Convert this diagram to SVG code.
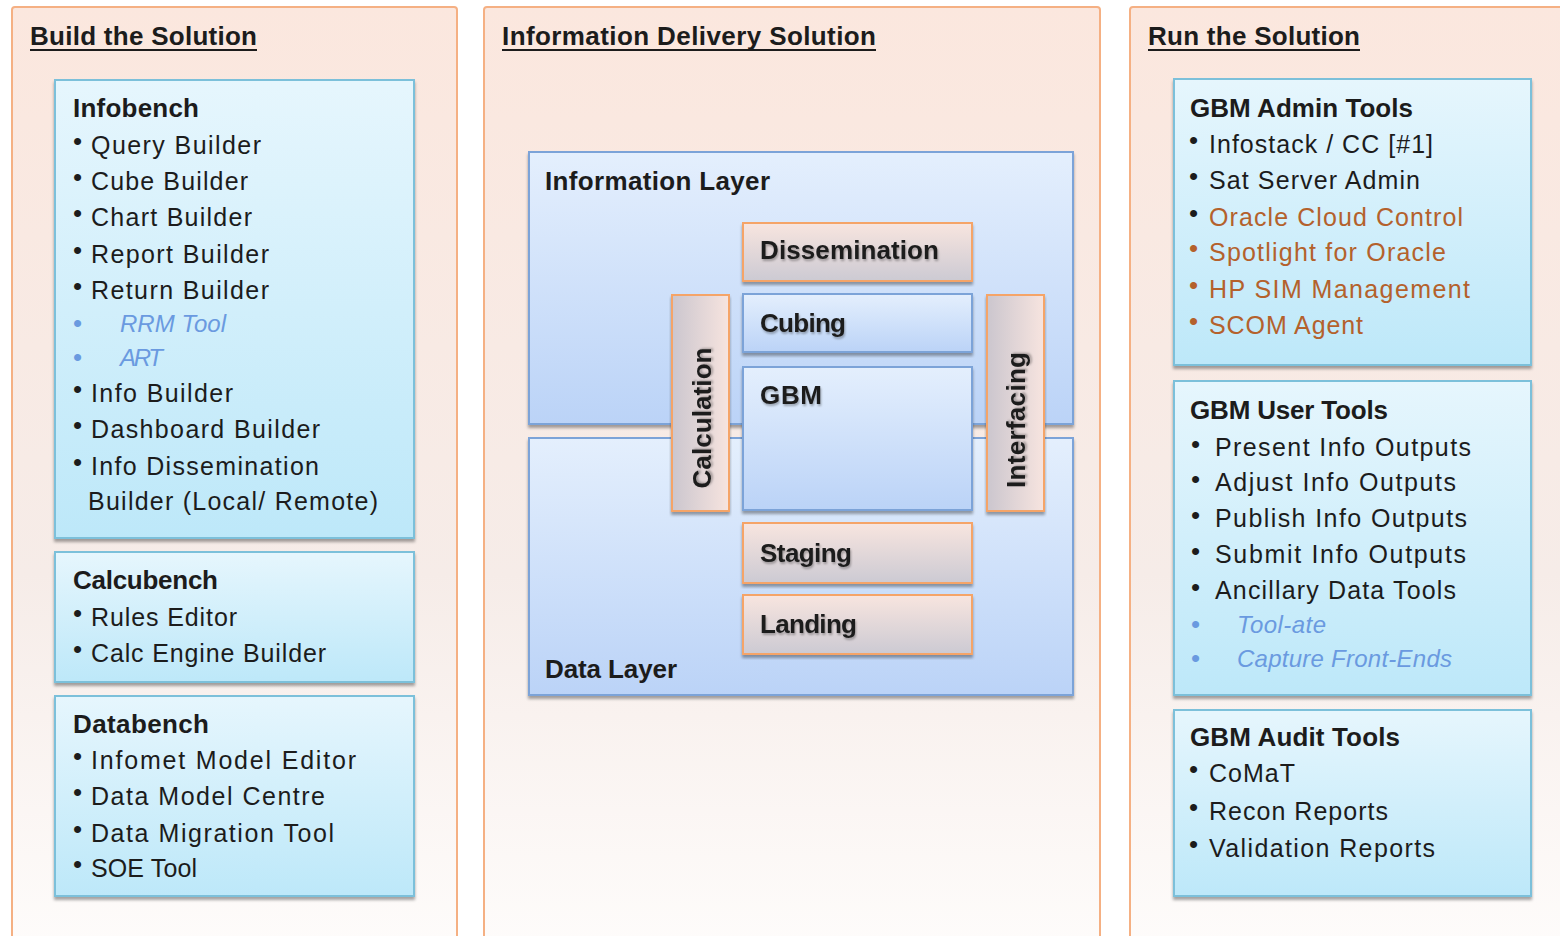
<svg xmlns="http://www.w3.org/2000/svg" width="1560" height="936" viewBox="0 0 1560 936">
<defs>
<linearGradient id="gPanel" x1="0" y1="0" x2="0" y2="1">
<stop offset="0" stop-color="#fbe7de"/><stop offset="0.6" stop-color="#f6ece8"/><stop offset="1" stop-color="#fefcfb"/>
</linearGradient>
<linearGradient id="gBlue" x1="0" y1="0" x2="0" y2="1">
<stop offset="0" stop-color="#e6f6fd"/><stop offset="1" stop-color="#bde8f9"/>
</linearGradient>
<linearGradient id="gLayer" x1="0" y1="0" x2="0" y2="1">
<stop offset="0" stop-color="#e4effd"/><stop offset="1" stop-color="#bbd3f7"/>
</linearGradient>
<linearGradient id="gOrange" x1="0" y1="0" x2="0" y2="1">
<stop offset="0" stop-color="#f8e5df"/><stop offset="1" stop-color="#cccad3"/>
</linearGradient>
<linearGradient id="gOrangeH" x1="0" y1="0" x2="1" y2="0">
<stop offset="0" stop-color="#cbc6ce"/><stop offset="1" stop-color="#f7e4df"/>
</linearGradient>
<filter id="shadow" x="-5%" y="-5%" width="110%" height="115%">
<feDropShadow dx="0" dy="3" stdDeviation="1.5" flood-color="#000" flood-opacity="0.35"/>
</filter>
<filter id="tshadow" x="-5%" y="-20%" width="110%" height="160%">
<feDropShadow dx="1" dy="2" stdDeviation="1.2" flood-color="#000" flood-opacity="0.3"/>
</filter>
</defs>
<style>
.panel{fill:url(#gPanel);stroke:#f5b083;stroke-width:2}
.bbox{fill:url(#gBlue);stroke:#7cc0da;stroke-width:2;filter:url(#shadow)}
.layer{fill:url(#gLayer);stroke:#7ca3d8;stroke-width:2;filter:url(#shadow)}
.obox{fill:url(#gOrange);stroke:#f5a468;stroke-width:2;filter:url(#shadow)}
.obar{fill:url(#gOrangeH);stroke:#f5a468;stroke-width:2;filter:url(#shadow)}
.ibox{fill:url(#gLayer);stroke:#7ca3d8;stroke-width:2;filter:url(#shadow)}
text{font-family:"Liberation Sans",Arial,sans-serif;fill:#1c1c1c}
.h{font-size:26px;font-weight:bold}
.t{font-size:26px;font-weight:bold}
.lbl{font-size:26px;font-weight:bold;filter:url(#tshadow)}
.i{font-size:25px}
.b{font-size:26px}
.it{font-size:24px;font-style:italic;fill:#6a9ae0}
.bl{fill:#6a9ae0}
.br{fill:#b4612c}
.ul{stroke:#1c1c1c;stroke-width:2}
</style>

<g id="panel-build">
<rect class="panel" x="12" y="7" width="445" height="945" rx="3"/>
<text class="h" x="30" y="45" textLength="227">Build the Solution</text>
<line class="ul" x1="30" y1="50" x2="257" y2="50"/>
</g>
<g id="panel-delivery">
<rect class="panel" x="484" y="7" width="616" height="945" rx="3"/>
<text class="h" x="502" y="45" textLength="374">Information Delivery Solution</text>
<line class="ul" x1="502" y1="50" x2="876" y2="50"/>
</g>
<g id="panel-run">
<rect class="panel" x="1130" y="7" width="450" height="945" rx="3"/>
<text class="h" x="1148" y="45" textLength="212">Run the Solution</text>
<line class="ul" x1="1148" y1="50" x2="1360" y2="50"/>
</g>

<g id="infobench">
<rect class="bbox" x="55" y="80" width="359" height="458"/>
<text class="t" x="73" y="117" textLength="126">Infobench</text>
<text class="b" x="73" y="150">•</text><text class="i" x="91" y="154" textLength="170">Query Builder</text>
<text class="b" x="73" y="186">•</text><text class="i" x="91" y="190" textLength="157">Cube Builder</text>
<text class="b" x="73" y="222">•</text><text class="i" x="91" y="226" textLength="161">Chart Builder</text>
<text class="b" x="73" y="259">•</text><text class="i" x="91" y="263" textLength="178">Report Builder</text>
<text class="b" x="73" y="295">•</text><text class="i" x="91" y="299" textLength="178">Return Builder</text>
<text class="b bl" x="73" y="332">•</text><text class="it" x="120" y="332" textLength="106">RRM Tool</text>
<text class="b bl" x="73" y="366">•</text><text class="it" x="120" y="366" textLength="43">ART</text>
<text class="b" x="73" y="398">•</text><text class="i" x="91" y="402" textLength="142">Info Builder</text>
<text class="b" x="73" y="434">•</text><text class="i" x="91" y="438" textLength="229">Dashboard Builder</text>
<text class="b" x="73" y="471">•</text><text class="i" x="91" y="475" textLength="228">Info Dissemination</text>
<text class="i" x="88" y="510" textLength="290">Builder (Local/ Remote)</text>
</g>

<g id="calcubench">
<rect class="bbox" x="55" y="552" width="359" height="130"/>
<text class="t" x="73" y="589" textLength="145">Calcubench</text>
<text class="b" x="73" y="622">•</text><text class="i" x="91" y="626" textLength="146">Rules Editor</text>
<text class="b" x="73" y="658">•</text><text class="i" x="91" y="662" textLength="235">Calc Engine Builder</text>
</g>

<g id="databench">
<rect class="bbox" x="55" y="696" width="359" height="200"/>
<text class="t" x="73" y="733" textLength="136">Databench</text>
<text class="b" x="73" y="765">•</text><text class="i" x="91" y="769" textLength="265">Infomet Model Editor</text>
<text class="b" x="73" y="801">•</text><text class="i" x="91" y="805" textLength="234">Data Model Centre</text>
<text class="b" x="73" y="838">•</text><text class="i" x="91" y="842" textLength="243">Data Migration Tool</text>
<text class="b" x="73" y="873">•</text><text class="i" x="91" y="877" textLength="106">SOE Tool</text>
</g>

<g id="information-layer">
<rect class="layer" x="529" y="152" width="544" height="272"/>
<text class="t" x="545" y="190" textLength="225">Information Layer</text>
</g>
<g id="data-layer">
<rect class="layer" x="529" y="438" width="544" height="257"/>
<text class="t" x="545" y="678" textLength="132">Data Layer</text>
</g>
<g id="dissemination">
<rect class="obox" x="743" y="223" width="229" height="58"/>
<text class="lbl" x="760" y="259" textLength="179">Dissemination</text>
</g>
<g id="cubing">
<rect class="ibox" x="743" y="294" width="229" height="58"/>
<text class="lbl" x="760" y="332" textLength="86">Cubing</text>
</g>
<g id="gbm">
<rect class="ibox" x="743" y="367" width="229" height="143"/>
<text class="lbl" x="760" y="404" textLength="62">GBM</text>
</g>
<g id="staging">
<rect class="obox" x="743" y="523" width="229" height="60"/>
<text class="lbl" x="760" y="562" textLength="92">Staging</text>
</g>
<g id="landing">
<rect class="obox" x="743" y="595" width="229" height="59"/>
<text class="lbl" x="760" y="633" textLength="97">Landing</text>
</g>
<g id="calculation">
<rect class="obar" x="672" y="295" width="57" height="216"/>
<text class="lbl" text-anchor="middle" transform="translate(711,418) rotate(-90)" textLength="141">Calculation</text>
</g>
<g id="interfacing">
<rect class="obar" x="987" y="295" width="57" height="216"/>
<text class="lbl" text-anchor="middle" transform="translate(1025,420) rotate(-90)" textLength="136">Interfacing</text>
</g>

<g id="admin-tools">
<rect class="bbox" x="1174" y="79" width="357" height="286"/>
<text class="t" x="1190" y="117" textLength="223">GBM Admin Tools</text>
<text class="b" x="1189" y="149">•</text><text class="i" x="1209" y="153" textLength="224">Infostack / CC [#1]</text>
<text class="b" x="1189" y="185">•</text><text class="i" x="1209" y="189" textLength="211">Sat Server Admin</text>
<text class="b" x="1189" y="222">•</text><text class="i br" x="1209" y="226" textLength="254">Oracle Cloud Control</text>
<text class="b br" x="1189" y="257">•</text><text class="i br" x="1209" y="261" textLength="237">Spotlight for Oracle</text>
<text class="b br" x="1189" y="294">•</text><text class="i br" x="1209" y="298" textLength="261">HP SIM Management</text>
<text class="b br" x="1189" y="330">•</text><text class="i br" x="1209" y="334" textLength="154">SCOM Agent</text>
</g>

<g id="user-tools">
<rect class="bbox" x="1174" y="381" width="357" height="314"/>
<text class="t" x="1190" y="419" textLength="198">GBM User Tools</text>
<text class="b" x="1191" y="453">•</text><text class="i" x="1215" y="456" textLength="256">Present Info Outputs</text>
<text class="b" x="1191" y="488">•</text><text class="i" x="1215" y="491" textLength="241">Adjust Info Outputs</text>
<text class="b" x="1191" y="524">•</text><text class="i" x="1215" y="527" textLength="252">Publish Info Outputs</text>
<text class="b" x="1191" y="560">•</text><text class="i" x="1215" y="563" textLength="251">Submit Info Outputs</text>
<text class="b" x="1191" y="596">•</text><text class="i" x="1215" y="599" textLength="241">Ancillary Data Tools</text>
<text class="b bl" x="1191" y="633">•</text><text class="it" x="1237" y="633" textLength="89">Tool-ate</text>
<text class="b bl" x="1191" y="667">•</text><text class="it" x="1237" y="667" textLength="215">Capture Front-Ends</text>
</g>

<g id="audit-tools">
<rect class="bbox" x="1174" y="710" width="357" height="186"/>
<text class="t" x="1190" y="746" textLength="210">GBM Audit Tools</text>
<text class="b" x="1189" y="778">•</text><text class="i" x="1209" y="782" textLength="86">CoMaT</text>
<text class="b" x="1189" y="816">•</text><text class="i" x="1209" y="820" textLength="179">Recon Reports</text>
<text class="b" x="1189" y="853">•</text><text class="i" x="1209" y="857" textLength="226">Validation Reports</text>
</g>

<g id="connectors"/>
</svg>
